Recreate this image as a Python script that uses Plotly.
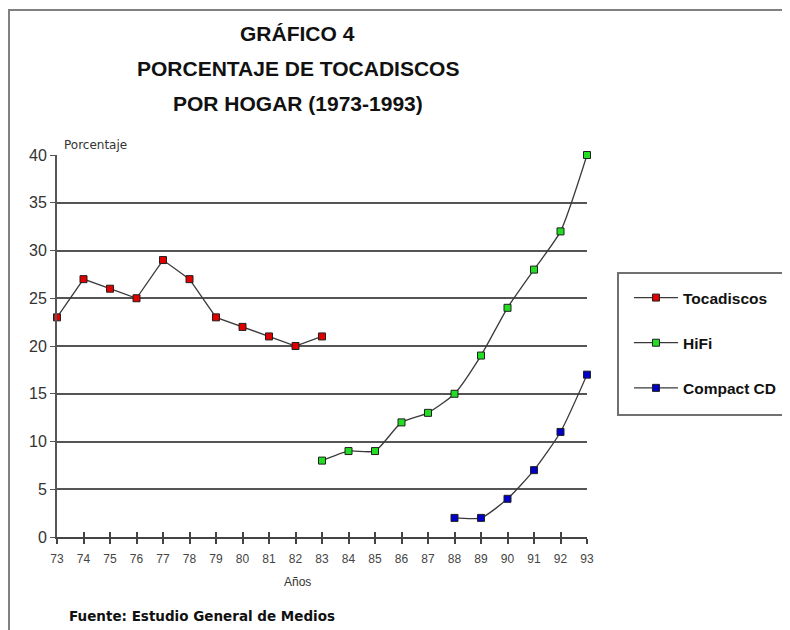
import plotly.graph_objects as go

years = list(range(73, 94))
tick_labels = [str(y) for y in years]

toca_years = [73, 74, 75, 76, 77, 78, 79, 80, 81, 82, 83]
toca_vals = [23, 27, 26, 25, 29, 27, 23, 22, 21, 20, 21]

hifi_years = [83, 84, 85, 86, 87, 88, 89, 90, 91, 92, 93]
hifi_vals = [8, 9, 9, 12, 13, 15, 19, 24, 28, 32, 40]

cd_years = [88, 89, 90, 91, 92, 93]
cd_vals = [2, 2, 4, 7, 11, 17]

series = [
    ("Tocadiscos", toca_years, toca_vals, "#e00000", "linear"),
    ("HiFi", hifi_years, hifi_vals, "#22dd22", "spline"),
    ("Compact CD", cd_years, cd_vals, "#0000c8", "spline"),
]

FONT = "Liberation Sans, Arial, sans-serif"

fig = go.Figure()
for i, (name, xs, ys, col, shape) in enumerate(series):
    fig.add_trace(go.Scatter(
        x=xs, y=ys, name=name, mode="lines+markers",
        line=dict(color="#3a3a3a", width=1.3, shape=shape, smoothing=0.6),
        marker=dict(symbol="square", size=7, color=col,
                    line=dict(color="#202020", width=1)),
        cliponaxis=False, legendgroup=name,
    ))

# invisible trace for second x axis (inside ticks)
fig.add_trace(go.Scatter(x=[73, 93], y=[0, 0], xaxis="x2", mode="markers",
                         marker=dict(opacity=0), showlegend=False, hoverinfo="skip"))

fig.update_layout(
    width=782, height=622,
    margin=dict(l=49, r=203, t=147, b=93, autoexpand=False),
    paper_bgcolor="white", plot_bgcolor="white",
    font=dict(family=FONT, color="#333333"),
    showlegend=True,
    legend=dict(
        x=0.7941, y=0.5611, xref="container", yref="container",
        xanchor="left", yanchor="top",
        borderwidth=0, bgcolor="rgba(0,0,0,0)",
        font=dict(family=FONT, size=15.5, color="#111111", weight="bold"),
        tracegroupgap=22, traceorder="grouped",
        itemwidth=44,
    ),
    xaxis=dict(
        range=[73, 93], tickmode="array", tickvals=years, ticktext=tick_labels,
        showgrid=False, zeroline=False,
        showline=True, linecolor="#444444", linewidth=2,
        ticks="outside", ticklen=5, tickcolor="#444444", tickwidth=1.5,
        tickfont=dict(size=12, color="#444444"), ticklabelstandoff=5,
    ),
    xaxis2=dict(
        range=[73, 93], overlaying="x", matches="x", tickmode="array",
        tickvals=years, ticktext=["" for _ in years], side="bottom",
        showgrid=False, zeroline=False, showline=False,
        ticks="inside", ticklen=5, tickcolor="#444444", tickwidth=1.5,
    ),
    yaxis=dict(
        range=[0, 40], tickmode="array", tickvals=[0, 5, 10, 15, 20, 25, 30, 35, 40],
        showgrid=True, gridcolor="#555555", gridwidth=2,
        zeroline=False, showline=True, linecolor="#555555", linewidth=2,
        ticks="outside", ticklen=5, tickcolor="#555555",
        tickfont=dict(size=16, color="#333333"),
    ),
)

title_lines = [("GRÁFICO 4", 1.319), ("PORCENTAJE DE TOCADISCOS", 1.2277),
               ("POR HOGAR (1973-1993)", 1.136)]
for txt, yy in title_lines:
    fig.add_annotation(text=txt, x=0.4547, y=yy, xref="paper", yref="paper",
                       showarrow=False, xanchor="center", yanchor="middle",
                       font=dict(family=FONT, size=21, color="#111111", weight="bold"))

fig.add_annotation(text="Porcentaje", x=0.0094, y=1.026, xref="paper", yref="paper",
                   showarrow=False, xanchor="left", yanchor="middle",
                   font=dict(family="DejaVu Sans, sans-serif", size=12, color="#333333"))
fig.add_annotation(text="Años", x=0.4547, y=-0.1178, xref="paper", yref="paper",
                   showarrow=False, xanchor="center", yanchor="middle",
                   font=dict(family=FONT, size=12, color="#333333"))
fig.add_annotation(text="Fuente: Estudio General de Medios", x=0.0189, y=-0.2068,
                   xref="paper", yref="paper", showarrow=False,
                   xanchor="left", yanchor="middle",
                   font=dict(family="DejaVu Sans, sans-serif", size=13.5,
                             color="#111111", weight="bold"))

# outer frame
fig.add_shape(type="rect", xref="paper", yref="paper",
              x0=-0.0906, y0=-0.27, x1=1.40, y1=1.3796,
              line=dict(color="#808080", width=2), layer="below")

# legend box
fig.add_shape(type="rect", xref="paper", yref="paper",
              x0=1.0585, y0=0.3194, x1=1.3774, y1=0.691,
              line=dict(color="#707070", width=2), fillcolor="white", layer="below")

fig.write_html("out.html")
